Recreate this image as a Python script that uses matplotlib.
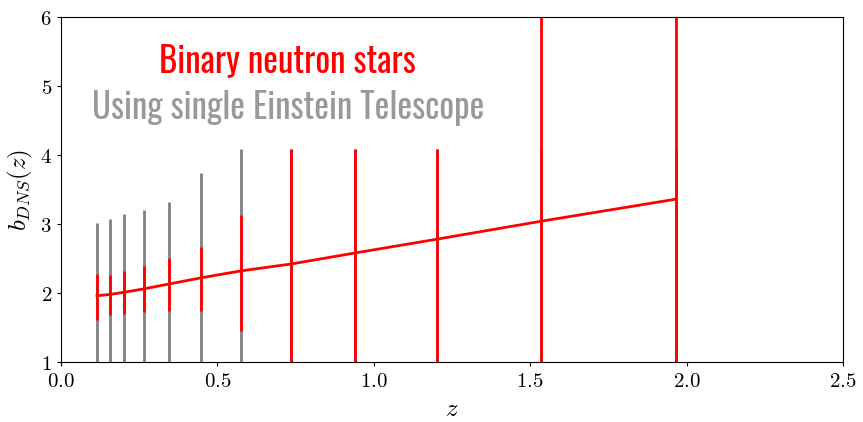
import matplotlib
matplotlib.use("Agg")
import matplotlib.pyplot as plt
from matplotlib.ticker import FuncFormatter
from matplotlib import font_manager

plt.rcParams['mathtext.fontset'] = 'cm'

z = [0.115, 0.157, 0.201, 0.265, 0.345, 0.448, 0.575, 0.735, 0.940, 1.202, 1.535, 1.966]
bias = [1.96, 1.98, 2.01, 2.06, 2.13, 2.22, 2.32, 2.42, 2.58, 2.78, 3.04, 3.36]
# single-ET (gray) error bar bounds
gray_lo = [0.90, 0.88, 0.87, 0.85, 0.85, 0.70, 0.55, 0.5, 0.5, 0.5, 0.5, 0.5]
gray_hi = [3.01, 3.07, 3.14, 3.21, 3.32, 3.74, 4.09, 4.09, 4.09, 4.09, 4.09, 4.09]
# red error bar bounds
red_lo = [1.61, 1.68, 1.70, 1.72, 1.74, 1.74, 1.45, 0.5, 0.5, 0.5, 0.5, 0.5]
red_hi = [2.28, 2.26, 2.32, 2.39, 2.50, 2.66, 3.13, 4.09, 4.09, 4.09, 6.5, 6.5]

title1 = "Binary neutron stars"
title2 = "Using single Einstein Telescope"

fig = plt.figure(figsize=(8.63, 4.22), dpi=100)
ax = fig.add_axes([0.0707, 0.1422, 0.9768 - 0.0707, 0.9597 - 0.1422])

gerr = [[b - lo for b, lo in zip(bias, gray_lo)], [hi - b for b, hi in zip(bias, gray_hi)]]
rerr = [[b - lo for b, lo in zip(bias, red_lo)], [hi - b for b, hi in zip(bias, red_hi)]]
ax.errorbar(z, bias, yerr=gerr, fmt='none', ecolor='gray', elinewidth=2, capsize=0)
ax.errorbar(z, bias, yerr=rerr, fmt='none', ecolor='red', elinewidth=2, capsize=0)
ax.plot(z, bias, color='red', lw=2)

ax.set_xlim(0, 2.5)
ax.set_ylim(1, 6)
ax.set_xticks([0, 0.5, 1.0, 1.5, 2.0, 2.5])
ax.set_yticks([1, 2, 3, 4, 5, 6])
ax.xaxis.set_major_formatter(FuncFormatter(lambda v, p: r'$%.1f$' % v))
ax.yaxis.set_major_formatter(FuncFormatter(lambda v, p: r'$%d$' % v))
ax.tick_params(labelsize=15, length=3, width=0.8)
ax.set_xlabel(r'$z$', fontsize=18)
ax.set_ylabel(r'$b_{DNS}(z)$', fontsize=18)

names = {f.name for f in font_manager.fontManager.ttflist}
fam, stretch = 'DejaVu Sans', 'condensed'
for cand in ['Oswald', 'Roboto Condensed', 'Liberation Sans Narrow', 'Open Sans Condensed',
             'DejaVu Sans Condensed', 'Noto Sans Condensed']:
    if cand in names:
        fam, stretch = cand, 'normal'
        break
if fam == 'DejaVu Sans':
    cond = [f for f in font_manager.fontManager.ttflist
            if 'ondensed' in f.fname or 'arrow' in f.fname]
    if cond:
        fam = cond[0].name
        stretch = 'condensed'

t1 = ax.text(0.29, 0.872, title1, transform=ax.transAxes, color='red', fontsize=25,
             family=fam, stretch=stretch, ha='center', va='center')
t2 = ax.text(0.29, 0.737, title2, transform=ax.transAxes, color='#999999', fontsize=25,
             family=fam, stretch=stretch, ha='center', va='center')

fig.canvas.draw()
r = fig.canvas.get_renderer()
for t, target in [(t1, 257), (t2, 393)]:
    w = t.get_window_extent(r).width
    t.set_fontsize(25 * target / w)

fig.savefig('out.png', dpi=100)
